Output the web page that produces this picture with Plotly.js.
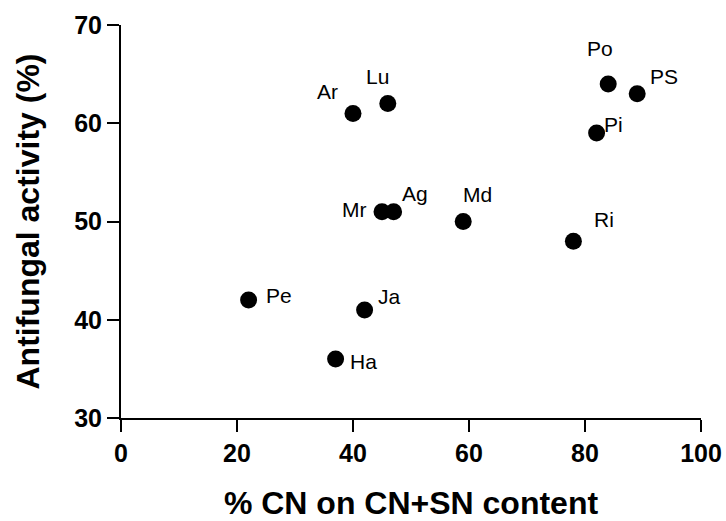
<!DOCTYPE html>
<html>
<head>
<meta charset="utf-8">
<script src="https://cdn.plot.ly/plotly-3.0.1.min.js"></script>
<style>html,body{margin:0;padding:0;background:#fff;}#chart{width:726px;height:521px;}</style>
</head>
<body>
<div id="chart"></div>
<script>
const names = ["Ar","Lu","Po","PS","Pi","Mr","Ag","Md","Ri","Pe","Ja","Ha"];
const cnContent = [40,46,84,89,82,45,47,59,78,22,42,37];
const antifungal = [61,62,64,63,59,51,51,50,48,42,41,36];
const xTicks = [0,20,40,60,80,100];
const yTicks = [30,40,50,60,70];

// label placement offsets (px) relative to each point
const labelShift = {
  Ar:[-26,22], Lu:[-10,27], Po:[-8,35], PS:[27,17], Pi:[17,9], Mr:[-28,2],
  Ag:[21,18], Md:[14,27], Ri:[31,22], Pe:[30,5], Ja:[25,13], Ha:[28,-2]
};

const FONT = "Liberation Sans, Arial, sans-serif";

const trace = {
  x: cnContent, y: antifungal, mode: "markers", type: "scatter",
  marker: {size: 17, color: "#000"},
  hoverinfo: "none", cliponaxis: false
};

const annotations = names.map((n,i)=>({
  x: cnContent[i], y: antifungal[i], xref: "x", yref: "y",
  text: n, showarrow: false,
  xshift: labelShift[n][0], yshift: labelShift[n][1],
  font: {family: FONT, size: 21, color: "#000"}
}));

const layout = {
  width: 726, height: 521,
  margin: {l: 121, r: 25, t: 25, b: 103},
  paper_bgcolor: "#fff", plot_bgcolor: "#fff",
  showlegend: false,
  xaxis: {
    range: [0,100], tickvals: xTicks, ticktext: xTicks.map(String),
    showgrid: false, zeroline: false, showline: true, linecolor: "#000", linewidth: 2,
    ticks: "outside", ticklen: 12, tickwidth: 2, tickcolor: "#000",
    tickfont: {family: FONT, size: 25, color: "#000", weight: "bold"},
    title: {text: "% CN on CN+SN content", standoff: 35,
            font: {family: FONT, size: 32, color: "#000", weight: "bold"}}
  },
  yaxis: {
    range: [30,70], tickvals: yTicks, ticktext: yTicks.map(String),
    showgrid: false, zeroline: false, showline: true, linecolor: "#000", linewidth: 2,
    ticks: "outside", ticklen: 12, tickwidth: 2, tickcolor: "#000",
    tickfont: {family: FONT, size: 25, color: "#000", weight: "bold"},
    title: {text: "Antifungal activity (%)", standoff: 25,
            font: {family: FONT, size: 32, color: "#000", weight: "bold"}}
  },
  annotations: annotations
};

Plotly.newPlot("chart", [trace], layout, {staticPlot: true, displayModeBar: false});
</script>
</body>
</html>
